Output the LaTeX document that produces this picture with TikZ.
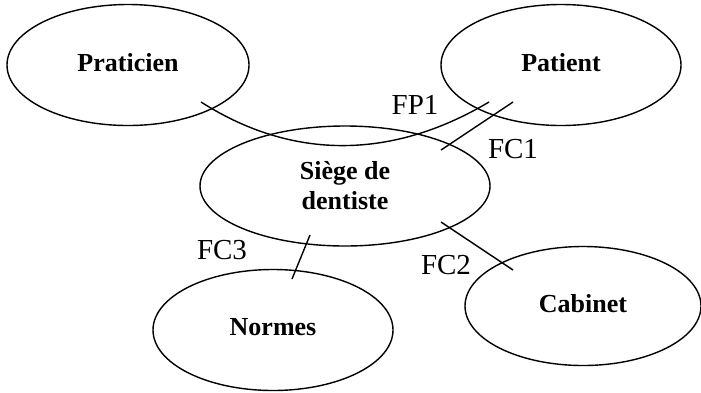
\documentclass[tikz,border=0pt]{standalone}
\usepackage{fontspec}
\setmainfont{Liberation Serif}
\usetikzlibrary{shapes.geometric,positioning}
\begin{document}
\begin{tikzpicture}[x=1pt, y=-1pt, line width=1.4pt,
  bloc/.style={draw, ellipse, inner sep=0pt, align=center, font=\fontsize{26}{30}\selectfont\bfseries},
  haut/.style={text depth=6pt},
  fonc/.style={inner sep=0pt, font=\fontsize{29}{30}\selectfont}]
\useasboundingbox (0,0) rectangle (701,392);
% les elements du milieu exterieur
\node[bloc, haut, minimum width=242pt, minimum height=121pt] (prat) at (128,65) {Praticien};
\node[bloc, haut, minimum width=240pt, minimum height=121pt] (pat) at (561,65) {Patient};
\node[bloc, minimum width=290pt, minimum height=120pt] (siege) at (345,186) {Siège de\\dentiste};
\node[bloc, haut, minimum width=240pt, minimum height=121pt] (norm) at (273,330) {Normes};
\node[bloc, haut, minimum width=236pt, minimum height=119pt] (cab) at (583,306) {Cabinet};
% extremites des liaisons
\coordinate (fp1a) at (201,102); \coordinate (fp1b) at (489,102);
\coordinate (fc1a) at (441,150); \coordinate (fc1b) at (513,102);
\coordinate (fc2a) at (441,222); \coordinate (fc2b) at (513,270);
\coordinate (fc3a) at (310,235); \coordinate (fc3b) at (292,279);
\draw (fp1a) .. controls (300,165) and (400,155) .. (fp1b);
\draw (fc1a) -- (fc1b);
\draw (fc2a) -- (fc2b);
\draw (fc3a) -- (fc3b);
% fonctions
\node[fonc] (lfp1) at (415,105) {FP1};
\node[fonc] (lfc1) at (513,149) {FC1};
\node[fonc] (lfc2) at (446,265) {FC2};
\node[fonc] (lfc3) at (222,250) {FC3};
\end{tikzpicture}
\end{document}
